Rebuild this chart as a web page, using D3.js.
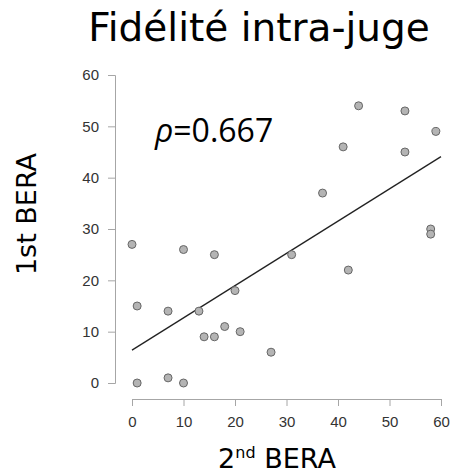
<html lang="en">
<head>
<style>
	body { margin: 0; background: #fff; }
	.axis path, .axis line { stroke: #a6a6a6; }
	.axis text { font-family: "Liberation Sans", Arial, sans-serif; font-size: 15px; fill: #333; }
</style>
</head>
<body>
<svg width="453" height="476"></svg>
<script src="https://d3js.org/d3.v7.min.js"></script>
<script>
	// scores from the 2nd and 1st BERA (one point per subject)
	var bera2 = [0, 10, 16, 31, 58, 58, 42, 20, 1, 7, 13, 18, 14, 16, 21, 27, 7, 1, 10, 44, 53, 59, 41, 53, 37];
	var bera1 = [27, 26, 25, 25, 30, 29, 22, 18, 15, 14, 14, 11, 9, 9, 10, 6, 1, 0, 0, 54, 53, 49, 46, 45, 37];
	// fitted line, at both ends of the x axis
	var fitX = [0, 60];
	var fitY = [6.4, 44.1];
	var xTicks = [0, 10, 20, 30, 40, 50, 60];
	var yTicks = [0, 10, 20, 30, 40, 50, 60];
	var rho = "0.667";

	var svg = d3.select("svg");
	var marginLeft = 132, marginTop = 75;
	var width = 309, height = 308;

	var x = d3.scaleLinear().domain([0, 60]).range([0, width]);
	var y = d3.scaleLinear().domain([0, 60]).range([height, 0]);

	var g = svg.append("g")
		.attr("transform", "translate(" + marginLeft + "," + marginTop + ")");

	g.append("g")
		.attr("class", "axis")
		.attr("transform", "translate(0," + (height + 16) + ")")
		.call(d3.axisBottom(x).tickValues(xTicks).tickSizeOuter(0).tickSize(7).tickPadding(10));

	g.append("g")
		.attr("class", "axis")
		.attr("transform", "translate(-17,0)")
		.call(d3.axisLeft(y).tickValues(yTicks).tickSizeOuter(0).tickSize(7).tickPadding(9));

	g.append("line")
		.attr("x1", x(fitX[0])).attr("y1", y(fitY[0]))
		.attr("x2", x(fitX[1])).attr("y2", y(fitY[1]))
		.attr("stroke", "#222")
		.attr("stroke-width", 1.3);

	g.selectAll(".dot")
		.data(d3.range(bera2.length))
		.enter().append("circle")
		.attr("class", "dot")
		.attr("cx", function(i) { return x(bera2[i]); })
		.attr("cy", function(i) { return y(bera1[i]); })
		.attr("r", 4)
		.attr("fill", "#b4b4b4")
		.attr("stroke", "#666")
		.attr("stroke-width", 1);

	// correlation label
	var lab = svg.append("text")
		.attr("x", 155)
		.attr("y", 142)
		.attr("font-family", "Open Sans, sans-serif")
		.attr("font-size", "32px")
		.attr("fill", "#000");
	lab.append("tspan").attr("font-style", "italic").text("ρ");
	lab.append("tspan").text("=" + rho);

	svg.append("text")
		.attr("x", 259)
		.attr("y", 41)
		.attr("text-anchor", "middle")
		.attr("font-family", "DejaVu Sans, sans-serif")
		.attr("font-size", "39px")
		.text("Fidélité intra-juge");

	var xl = svg.append("text")
		.attr("x", 277)
		.attr("y", 468)
		.attr("text-anchor", "middle")
		.attr("font-family", "DejaVu Sans, sans-serif")
		.attr("font-size", "27px");
	xl.append("tspan").text("2");
	xl.append("tspan").attr("font-size", "16px").attr("dy", "-10").text("nd");
	xl.append("tspan").attr("dy", "10").text(" BERA");

	svg.append("text")
		.attr("transform", "translate(36,214) rotate(-90)")
		.attr("text-anchor", "middle")
		.attr("font-family", "DejaVu Sans, sans-serif")
		.attr("font-size", "27px")
		.text("1st BERA");
</script>
</body>
</html>
